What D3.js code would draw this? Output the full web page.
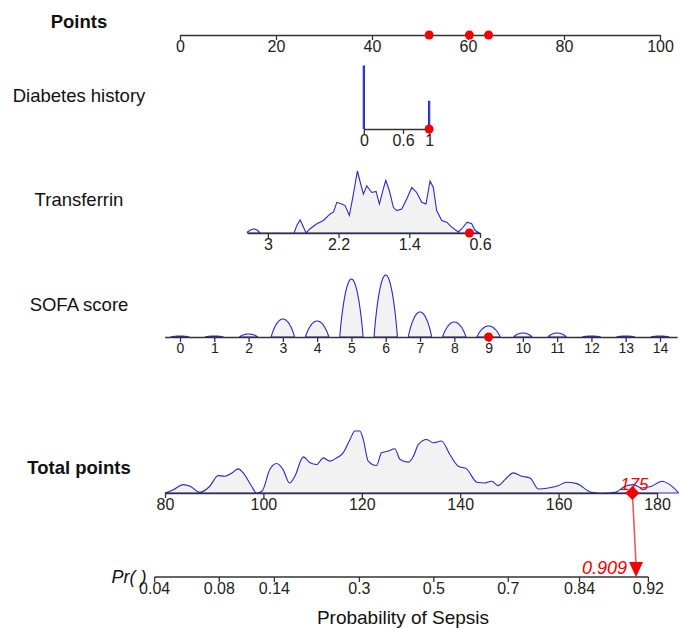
<!DOCTYPE html>
<html lang="en">
  <head>
    <meta charset="UTF-8" />
    <title>Sepsis nomogram</title>
    <script src="https://d3js.org/d3.v7.min.js"></script>
    <style>
      body {
        margin: 0;
        background: #fff;
      }
      text {
        font-family: Arial, "Liberation Sans", sans-serif;
        fill: #111;
      }
      .row-label {
        font-size: 18.5px;
      }
      .row-label.bold {
        font-weight: bold;
      }
      .tick text {
        font-size: 16px;
        fill: #222;
      }
      .density {
        fill: #f2f2f2;
        stroke: #2a2ac4;
        stroke-width: 1.1;
      }
      .axis path,
      .axis line {
        stroke: #333;
        stroke-width: 1.3;
      }
    </style>
  </head>
  <body>
    <div id="chart"></div>

    <script>
      // 축/변수 값
      const pointsTicks = [0, 20, 40, 60, 80, 100];

      const diabetesTicks = [0, 0.6, 1];
      const diabetesPoints = [38.3, 51.9]; // points at 0 and 1
      const diabetesDensity = [
        [0, 1.0],
        [1, 0.44],
      ];

      const transferrinRange = [3.23, 0.6];
      const transferrinTicks = [3, 2.2, 1.4, 0.6];
      const transferrinPoints = [18.3, 62.5]; // points at 3 and 0.6
      const transferrinDensity = [
        [3.231, 1], [3.192, 3.3], [3.155, 4.3], [3.118, 2.7], [3.087, 0],
        [2.703, 0], [2.672, 7.7], [2.635, 13.3], [2.598, 6], [2.567, 0],
        [2.522, 4.3], [2.446, 9.3], [2.371, 12.7], [2.296, 19.3], [2.258, 21],
        [2.22, 31], [2.163, 29.3], [2.126, 27.7], [2.078, 17.7], [2.039, 36],
        [1.987, 62.7], [1.949, 49.3], [1.919, 39.3], [1.881, 47.7], [1.824, 41],
        [1.776, 42], [1.738, 29.3], [1.7, 42.7], [1.666, 53.3], [1.625, 42.7],
        [1.58, 26], [1.542, 22.7], [1.485, 24.3], [1.429, 34.3], [1.372, 46],
        [1.316, 41], [1.259, 31], [1.211, 29.3], [1.165, 52.7], [1.128, 46],
        [1.09, 22.7], [1.033, 12.7], [0.976, 11], [0.92, 6], [0.845, 1],
        [0.807, 4.3], [0.744, 11], [0.694, 9.3], [0.657, 2.7], [0.608, 0],
      ];

      const sofaTicks = d3.range(0, 15);
      const sofaPoints = [0, 100]; // points at 0 and 14
      const sofaHeights = [1, 1, 3, 18, 16, 58, 62, 25, 15, 11, 4, 4, 1, 1, 1];

      const totalTicks = [80, 100, 120, 140, 160, 180];
      const totalDensity = [
        [80, 0], [81.7, 3.3], [83.7, 8.3], [85.1, 6.7], [87.1, 0.7],
        [89.1, 6.7], [90.8, 17.3], [92.2, 16.7], [93.6, 20], [94.9, 24],
        [95.9, 20], [97.6, 6.7], [98.6, 0], [99.7, 1.7], [101.3, 23.3],
        [102.7, 29.3], [104, 23.3], [105.3, 10], [106.4, 16.7], [108.1, 36],
        [109.5, 30], [110.8, 28.3], [112.2, 35], [113.5, 31.7], [114.9, 35],
        [116.2, 40], [117.6, 53.3], [118.6, 61.7], [119.6, 61.7], [120.3, 53.3],
        [121.3, 31.7], [123, 27.3], [124, 40], [125.4, 41.7], [126.7, 44],
        [127.8, 33.3], [129.5, 30.7], [130.5, 36.7], [131.5, 48.3], [133.2, 53.3],
        [134.5, 50], [136.2, 51.7], [137.9, 38.3], [139.6, 26.7], [141.3, 24],
        [143.4, 10.7], [145, 10], [146.4, 11.7], [147.7, 7.3], [149.1, 13.3],
        [150.8, 20], [152.5, 16.7], [154.2, 15], [155.9, 4], [157.9, 5],
        [159.9, 7.3], [161.6, 10.7], [163.7, 9.3], [166.7, 0.7], [168.8, 0],
        [171.5, 0.7], [173.5, 6.7], [175.2, 8.3], [176.9, 5], [178.9, 6.7],
        [181, 11.7], [182.6, 8.3], [184.3, 0.7],
      ];

      const probTicks = [0.04, 0.08, 0.14, 0.3, 0.5, 0.7, 0.84, 0.92];
      const logitIntercept = -7.54;
      const logitSlope = 0.056;

      // 환자 예시 값
      const patient = { diabetes: 1, transferrin: 0.72, sofa: 9 };
      const totalScore = 175;
      const predictedProb = 0.909;

      const width = 681,
        height = 628;
      const svg = d3
        .select("#chart")
        .append("svg")
        .attr("width", width)
        .attr("height", height);

      const rowY = {
        points: 35,
        diabetes: 129,
        transferrin: 233,
        sofa: 337,
        total: 493,
        prob: 577,
      };
      const labelX = 79;
      const densH = 62;

      const x = d3.scaleLinear().domain([0, 100]).range([180, 660]);

      // 값 -> 픽셀 스케일
      const diabetesPts = d3.scaleLinear().domain([0, 1]).range(diabetesPoints);
      const transferrinPts = d3
        .scaleLinear()
        .domain([3, 0.6])
        .range(transferrinPoints);
      const sofaPts = d3.scaleLinear().domain([0, 14]).range(sofaPoints);

      const xDiabetes = d3
        .scaleLinear()
        .domain([0, 1])
        .range([0, 1].map((v) => x(diabetesPts(v))));
      const xTransferrin = d3
        .scaleLinear()
        .domain(transferrinRange)
        .range(transferrinRange.map((v) => x(transferrinPts(v))));
      const sofaExtent = [-0.45, 14.5];
      const xSofa = d3
        .scaleLinear()
        .domain(sofaExtent)
        .range(sofaExtent.map((v) => x(sofaPts(v))));
      const xTotal = d3.scaleLinear().domain([80, 180]).range([165, 657]);

      function drawAxis(scale, y, ticks, fontSize) {
        const g = svg
          .append("g")
          .attr("class", "axis")
          .attr("transform", `translate(0,${y})`)
          .call(
            d3
              .axisBottom(scale)
              .tickValues(ticks)
              .tickFormat((d) => String(d))
              .tickSize(5)
              .tickSizeOuter(0)
              .tickPadding(1)
          );
        g.attr("font-family", null).attr("font-size", null);
        if (fontSize) g.selectAll(".tick text").style("font-size", fontSize + "px");
        return g;
      }

      function rowLabel(text, y, bold) {
        svg
          .append("text")
          .attr("class", "row-label" + (bold ? " bold" : ""))
          .attr("x", labelX)
          .attr("y", y)
          .attr("dy", "0.35em")
          .attr("text-anchor", "middle")
          .text(text);
      }

      // 밀도 그리기
      function drawDensity(data, scale, y, curve) {
        const h = d3
          .scaleLinear()
          .domain([0, d3.max(data, (d) => d[1])])
          .range([0, densH]);
        svg
          .append("path")
          .datum(data)
          .attr("class", "density")
          .attr(
            "d",
            d3
              .area()
              .x((d) => scale(d[0]))
              .y0(y)
              .y1((d) => y - h(d[1]))
              .curve(curve || d3.curveLinear)
          );
      }

      // Points
      rowLabel("Points", 22, true);
      drawAxis(x, rowY.points, pointsTicks);

      // Diabetes history
      rowLabel("Diabetes history", 96);
      diabetesDensity.forEach(([v, d]) => {
        const cx = xDiabetes(v);
        const top = rowY.diabetes - 63 * d;
        svg
          .append("path")
          .attr("class", "density")
          .attr("stroke-width", 1.3)
          .attr(
            "d",
            d3.line()([
              [cx - 0.6, rowY.diabetes],
              [cx - 0.6, top],
              [cx + 0.6, top],
              [cx + 0.6, rowY.diabetes],
            ])
          );
      });
      drawAxis(xDiabetes, rowY.diabetes, diabetesTicks);

      // Transferrin
      rowLabel("Transferrin", 200);
      drawDensity(transferrinDensity, xTransferrin, rowY.transferrin);
      drawAxis(xTransferrin, rowY.transferrin, transferrinTicks);

      // SOFA score
      rowLabel("SOFA score", 305);
      const hSofa = d3.scaleLinear().domain([0, d3.max(sofaHeights)]).range([0, densH]);
      const bumpOffsets = d3.range(-0.34, 0.3401, 0.02);
      sofaHeights.forEach((hv, k) => {
        const w = hv < 5 ? 0.27 : 0.34;
        const pts = bumpOffsets
          .filter((o) => Math.abs(o) <= w + 1e-9)
          .map((o) => [k + o, hv * Math.pow(Math.max(0, 1 - (o / w) * (o / w)), 0.9)]);
        svg
          .append("path")
          .datum(pts)
          .attr("class", "density")
          .attr("stroke-width", hv < 2 ? 2 : 1.1)
          .attr(
            "d",
            d3
              .area()
              .x((d) => xSofa(d[0]))
              .y0(rowY.sofa)
              .y1((d) => rowY.sofa - hSofa(d[1]))
          );
      });
      drawAxis(xSofa, rowY.sofa, sofaTicks, 14);

      // Total points
      rowLabel("Total points", 468, true);
      drawDensity(totalDensity, xTotal, rowY.total, d3.curveMonotoneX);
      drawAxis(xTotal, rowY.total, totalTicks);

      // Probability axis
      const probX = (p) => xTotal((Math.log(p / (1 - p)) - logitIntercept) / logitSlope);
      const pg = svg.append("g").attr("class", "axis");
      pg.append("line")
        .attr("x1", probX(probTicks[0]))
        .attr("x2", probX(probTicks[probTicks.length - 1]))
        .attr("y1", rowY.prob)
        .attr("y2", rowY.prob);
      const pt = pg
        .selectAll(".tick")
        .data(probTicks)
        .join("g")
        .attr("class", "tick")
        .attr("transform", (d) => `translate(${probX(d)},${rowY.prob})`);
      pt.append("line").attr("y2", 5);
      pt.append("text")
        .attr("y", 6)
        .attr("dy", "0.71em")
        .attr("text-anchor", "middle")
        .text((d) => String(d));

      svg
        .append("text")
        .attr("x", 129)
        .attr("y", rowY.prob)
        .attr("dy", "0.35em")
        .attr("text-anchor", "middle")
        .style("font-size", "18px")
        .style("font-style", "italic")
        .text("Pr(  )");

      svg
        .append("text")
        .attr("x", 403)
        .attr("y", 617)
        .attr("dy", "0.35em")
        .attr("text-anchor", "middle")
        .style("font-size", "19px")
        .text("Probability of Sepsis");

      // 환자 표시 (빨간 점)
      const red = "#f00000";
      const patientMarks = [
        [xDiabetes(patient.diabetes), rowY.diabetes, diabetesPts(patient.diabetes)],
        [xTransferrin(patient.transferrin), rowY.transferrin, transferrinPts(patient.transferrin)],
        [xSofa(patient.sofa), rowY.sofa, sofaPts(patient.sofa)],
      ];
      patientMarks.forEach(([cx, cy, p]) => {
        svg.append("circle").attr("cx", cx).attr("cy", cy).attr("r", 4.5).attr("fill", red);
        svg.append("circle").attr("cx", x(p)).attr("cy", rowY.points).attr("r", 4.5).attr("fill", red);
      });

      const tx = xTotal(totalScore);
      const arrowX = probX(predictedProb);
      svg
        .append("line")
        .attr("x1", tx)
        .attr("x2", arrowX)
        .attr("y1", rowY.total)
        .attr("y2", rowY.prob - 12)
        .attr("stroke", "#e45c5c")
        .attr("stroke-width", 1.6);
      svg
        .append("path")
        .attr("d", d3.symbol(d3.symbolSquare, 100)())
        .attr("transform", `translate(${tx},${rowY.total}) rotate(45)`)
        .attr("fill", red);
      svg
        .append("path")
        .attr(
          "d",
          d3.line()([
            [arrowX - 7, rowY.prob - 15],
            [arrowX + 7, rowY.prob - 15],
            [arrowX, rowY.prob],
          ]) + "Z"
        )
        .attr("fill", red);

      svg
        .append("text")
        .attr("x", tx + 2)
        .attr("y", rowY.total - 3)
        .attr("text-anchor", "middle")
        .style("font-size", "17px")
        .style("font-style", "italic")
        .style("fill", red)
        .text(totalScore);
      svg
        .append("text")
        .attr("x", arrowX - 9)
        .attr("y", rowY.prob - 3)
        .attr("text-anchor", "end")
        .style("font-size", "18px")
        .style("font-style", "italic")
        .style("fill", red)
        .text(predictedProb.toFixed(3));
    </script>
  </body>
</html>
